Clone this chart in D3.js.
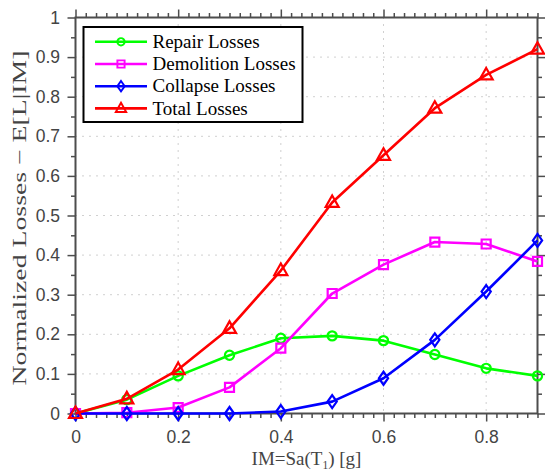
<!DOCTYPE html>
<html>
<head>
<meta charset="utf-8">
<script src="https://cdn.jsdelivr.net/npm/d3@7"></script>
<style>
  html, body { margin: 0; padding: 0; background: #fff; }
  svg { display: block; }
</style>
</head>
<body>
<svg id="chart" width="545" height="472"></svg>
<script>
// Intensity levels (Sa(T1) in g)
const imLevels = [0, 0.1, 0.2, 0.3, 0.4, 0.5, 0.6, 0.7, 0.8, 0.9];

// Expected normalized losses per intensity level
const repairLosses     = [0, 0.035, 0.095, 0.147, 0.190, 0.196, 0.184, 0.149, 0.114, 0.095];
const demolitionLosses = [0, 0.002, 0.015, 0.066, 0.165, 0.303, 0.376, 0.433, 0.428, 0.384];
const collapseLosses   = [0, 0.000, 0.000, 0.000, 0.005, 0.030, 0.089, 0.186, 0.308, 0.437];
const totalLosses      = [0, 0.037, 0.111, 0.215, 0.361, 0.533, 0.652, 0.771, 0.855, 0.920];

const seriesNames = ["Repair Losses", "Demolition Losses", "Collapse Losses", "Total Losses"];

const xTickValues = [0, 0.2, 0.4, 0.6, 0.8];
const yTickValues = [0, 0.1, 0.2, 0.3, 0.4, 0.5, 0.6, 0.7, 0.8, 0.9, 1];

const series = [
  { name: seriesNames[0], values: repairLosses,     color: "#00ff00", marker: "circle" },
  { name: seriesNames[1], values: demolitionLosses, color: "#ff00ff", marker: "square" },
  { name: seriesNames[2], values: collapseLosses,   color: "#0000ff", marker: "diamond" },
  { name: seriesNames[3], values: totalLosses,      color: "#ff0000", marker: "triangle" }
];

const svg = d3.select("#chart");
const plot = { left: 75.5, right: 537.5, top: 17.5, bottom: 413.5 };

const x = d3.scaleLinear().domain([0, 0.9]).range([plot.left, plot.right]);
const y = d3.scaleLinear().domain([0, 1]).range([plot.bottom, plot.top]);

const axisColor = "#4d4d4d";
const textColor = "#444444";
const tickFont = "'Liberation Sans', Arial, Helvetica, sans-serif";
const labelFont = "'Liberation Serif', 'Times New Roman', serif";

// Dotted grid lines at major ticks
const grid = svg.append("g");
grid.selectAll("line.gx").data(xTickValues.filter(d => d > 0)).enter().append("line")
  .attr("x1", d => x(d)).attr("x2", d => x(d))
  .attr("y1", plot.top).attr("y2", plot.bottom)
  .attr("stroke", "#a0a0a0").attr("stroke-width", 1).attr("stroke-dasharray", "1,6");
grid.selectAll("line.gy").data(yTickValues.filter(d => d > 0 && d < 1)).enter().append("line")
  .attr("x1", plot.left).attr("x2", plot.right)
  .attr("y1", d => y(d)).attr("y2", d => y(d))
  .attr("stroke", "#a0a0a0").attr("stroke-width", 1).attr("stroke-dasharray", "1,6");

// Minor tick values
const xMinor = d3.range(0, 0.9001, 0.02).map(v => +v.toFixed(2)).filter(v => !xTickValues.includes(v));
const yMinor = d3.range(0.05, 1, 0.1).map(v => +v.toFixed(2));

function styleAxis(g) {
  g.select(".domain").remove();
  g.selectAll(".tick line").attr("stroke", axisColor).attr("stroke-width", 1.5);
}

// Major axes (ticks outward) on all four sides
const bottomAxis = svg.append("g").attr("transform", `translate(0,${plot.bottom})`)
  .call(d3.axisBottom(x).tickValues(xTickValues).tickSize(8).tickPadding(9).tickFormat(d3.format("")));
styleAxis(bottomAxis);
bottomAxis.selectAll("text").attr("font-family", tickFont).attr("font-size", 17.5).attr("fill", textColor);

const topAxis = svg.append("g").attr("transform", `translate(0,${plot.top})`)
  .call(d3.axisTop(x).tickValues(xTickValues).tickSize(8).tickFormat(""));
styleAxis(topAxis);

const leftAxis = svg.append("g").attr("transform", `translate(${plot.left},0)`)
  .call(d3.axisLeft(y).tickValues(yTickValues).tickSize(8).tickPadding(7.5).tickFormat(d3.format("")));
styleAxis(leftAxis);
leftAxis.selectAll("text").attr("font-family", tickFont).attr("font-size", 17.5).attr("fill", textColor);

const rightAxis = svg.append("g").attr("transform", `translate(${plot.right},0)`)
  .call(d3.axisRight(y).tickValues(yTickValues).tickSize(8).tickFormat(""));
styleAxis(rightAxis);

// Minor ticks
[[d3.axisBottom(x), plot.bottom], [d3.axisTop(x), plot.top]].forEach(([ax, pos]) => {
  const g = svg.append("g").attr("transform", `translate(0,${pos})`)
    .call(ax.tickValues(xMinor).tickSize(4.5).tickFormat(""));
  styleAxis(g);
});
[[d3.axisLeft(y), plot.left], [d3.axisRight(y), plot.right]].forEach(([ax, pos]) => {
  const g = svg.append("g").attr("transform", `translate(${pos},0)`)
    .call(ax.tickValues(yMinor).tickSize(4.5).tickFormat(""));
  styleAxis(g);
});

// Plot box
svg.append("rect")
  .attr("x", plot.left).attr("y", plot.top)
  .attr("width", plot.right - plot.left).attr("height", plot.bottom - plot.top)
  .attr("fill", "none").attr("stroke", axisColor).attr("stroke-width", 2);

// Marker shapes
function markerPath(type) {
  switch (type) {
    case "circle":   return d3.symbol(d3.symbolCircle, 66)();
    case "square":   return "M-4.5,-4.5H4.5V4.5H-4.5Z";
    case "diamond":  return "M0,-6.5L4.6,0L0,6.5L-4.6,0Z";
    case "triangle": return "M0,-7L6.5,4.5H-6.5Z";
  }
}

const line = d3.line().x((d, i) => x(imLevels[i])).y(d => y(d));

series.forEach(s => {
  const g = svg.append("g");
  g.append("path").datum(s.values)
    .attr("d", line).attr("fill", "none")
    .attr("stroke", s.color).attr("stroke-width", 2.6).attr("stroke-linejoin", "round");
  g.selectAll("path.m").data(s.values).enter().append("path")
    .attr("class", "m")
    .attr("d", markerPath(s.marker))
    .attr("transform", (d, i) => `translate(${x(imLevels[i])},${y(d)})`)
    .attr("fill", "none").attr("stroke", s.color).attr("stroke-width", 2.2);
});

// Legend
const legend = svg.append("g");
legend.append("rect")
  .attr("x", 83.5).attr("y", 27).attr("width", 219).attr("height", 95)
  .attr("fill", "#fff").attr("stroke", "#000").attr("stroke-width", 2);
series.forEach((s, i) => {
  const yy = 41.8 + i * 22.2;
  legend.append("line").attr("x1", 95).attr("x2", 147).attr("y1", yy).attr("y2", yy)
    .attr("stroke", s.color).attr("stroke-width", 2.6);
  legend.append("path").attr("d", markerPath(s.marker))
    .attr("transform", `translate(121,${yy}) scale(0.8)`)
    .attr("fill", "none").attr("stroke", s.color).attr("stroke-width", 2.4);
  legend.append("text").attr("x", 152.5).attr("y", yy).attr("dy", "0.33em")
    .attr("font-family", labelFont).attr("font-size", 19).attr("fill", "#000")
    .text(s.name);
});

// Axis titles
const xLabel = svg.append("text")
  .attr("x", 306.5).attr("y", 465).attr("text-anchor", "middle")
  .attr("font-family", labelFont).attr("font-size", 19).attr("fill", textColor);
xLabel.append("tspan").text("IM=Sa(T");
xLabel.append("tspan").attr("font-size", 11.5).attr("dy", 3.5).text("1");
xLabel.append("tspan").attr("dy", -3.5).text(") [g]");

svg.append("text")
  .attr("transform", `translate(26,${218}) rotate(-90)`)
  .attr("text-anchor", "middle")
  .attr("font-family", labelFont).attr("font-size", 18.5).attr("fill", textColor)
  .attr("textLength", 335).attr("lengthAdjust", "spacingAndGlyphs")
  .text("Normalized Losses \u2212 E[L|IM]");
</script>
</body>
</html>
